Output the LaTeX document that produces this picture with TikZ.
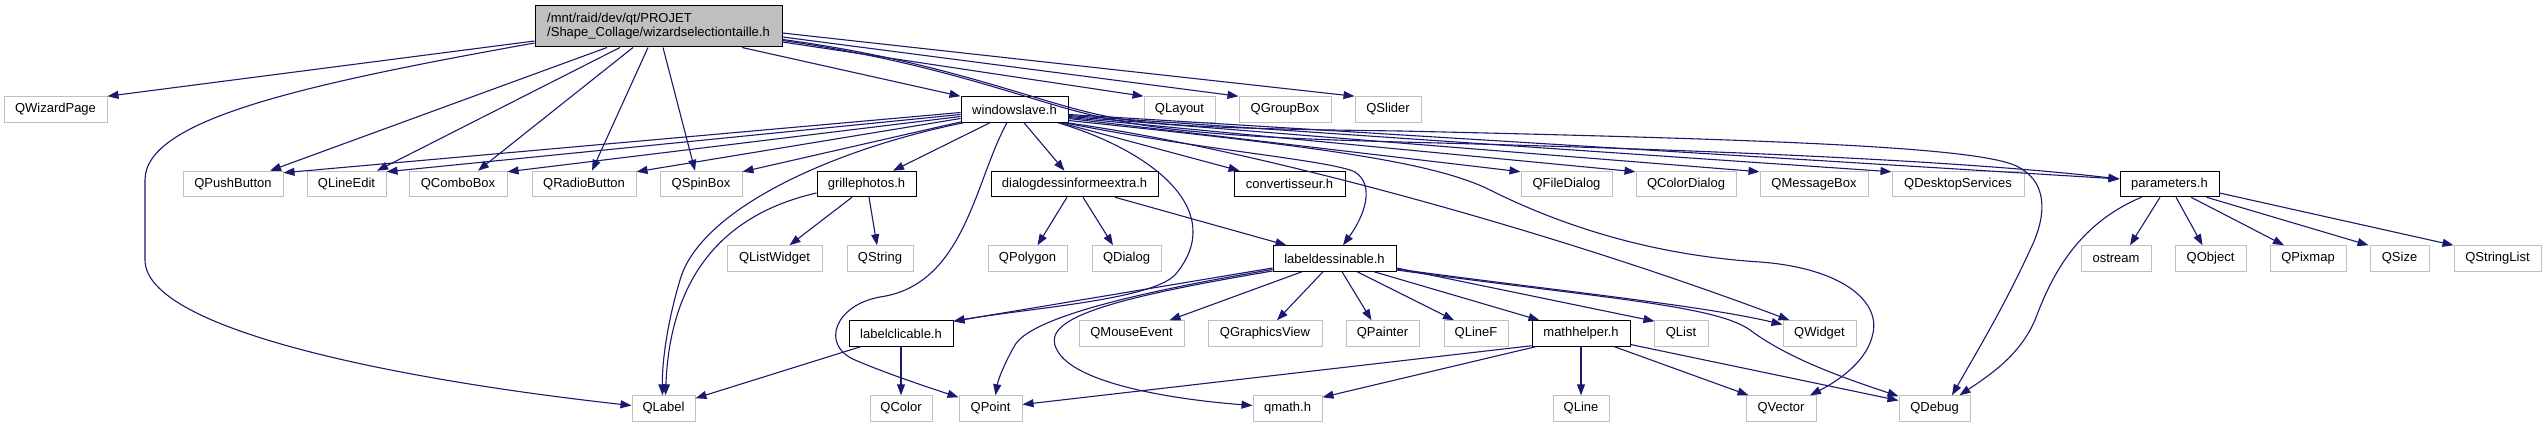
\documentclass[tikz,border=0pt]{standalone}
\usepackage{fontspec}
\setmainfont{Liberation Sans}
\usetikzlibrary{arrows.meta,calc}
\definecolor{edgeblue}{HTML}{191970}
\definecolor{extgray}{HTML}{BFBFBF}
\begin{document}
\begin{tikzpicture}[x=1pt,y=-1pt,
  box/.style={rectangle, inner sep=0pt, minimum height=25.5pt, line width=1pt, fill=white, font=\fontsize{13}{15}\selectfont, anchor=center},
  ext/.style={box, draw=extgray},
  int/.style={box, draw=black},
  dep/.style={draw=edgeblue, line width=1.1pt, -{Triangle[length=11pt,width=8pt]}}]
\fill[white] (0,0) rectangle (2545,427);
\useasboundingbox (0,0) rectangle (2545,427);

% main node
\node[box, draw=black, fill=extgray, minimum width=247pt, minimum height=41pt, align=left, font=\fontsize{13}{14}\selectfont] (main) at (658.5,26.5) {/mnt/raid/dev/qt/PROJET\\/Shape\_Collage/wizardselectiontaille.h};

% row 1
\node[ext, minimum width=103pt] (qwp) at (55.5,109.5) {QWizardPage};
\node[int, minimum width=107pt] (ws) at (1014.5,109.5) {windowslave.h};
\node[ext, minimum width=71pt] (qlay) at (1179.5,109.5) {QLayout};
\node[ext, minimum width=92pt] (qgb) at (1285,109.5) {QGroupBox};
\node[ext, minimum width=66pt] (qslider) at (1388,109.5) {QSlider};

% row 2
\node[ext, minimum width=100pt] (qpb) at (233,184) {QPushButton};
\node[ext, minimum width=79pt] (qle) at (346.5,184) {QLineEdit};
\node[ext, minimum width=98pt] (qcb) at (458,184) {QComboBox};
\node[ext, minimum width=104pt] (qrb) at (584,184) {QRadioButton};
\node[ext, minimum width=82pt] (qsb) at (701,184) {QSpinBox};
\node[int, minimum width=99pt] (grp) at (866.5,184) {grillephotos.h};
\node[int, minimum width=167pt] (dlg) at (1074.5,184) {dialogdessinformeextra.h};
\node[int, minimum width=111pt] (cnv) at (1289.5,184) {convertisseur.h};
\node[ext, minimum width=91pt] (qfd) at (1566.5,184) {QFileDialog};
\node[ext, minimum width=100pt] (qcd) at (1686,184) {QColorDialog};
\node[ext, minimum width=108pt] (qmb) at (1814,184) {QMessageBox};
\node[ext, minimum width=132pt] (qds) at (1958,184) {QDesktopServices};
\node[int, minimum width=99pt] (par) at (2169.5,184) {parameters.h};

% row 3
\node[ext, minimum width=95pt] (qlw) at (774.5,258.5) {QListWidget};
\node[ext, minimum width=66pt] (qstr) at (880,258.5) {QString};
\node[ext, minimum width=79pt] (qpoly) at (1027.5,258.5) {QPolygon};
\node[ext, minimum width=69pt] (qdlg) at (1126.5,258.5) {QDialog};
\node[int, minimum width=123pt] (lds) at (1334.5,258.5) {labeldessinable.h};
\node[ext, minimum width=70pt] (ostr) at (2116,258.5) {ostream};
\node[ext, minimum width=71pt] (qobj) at (2210.5,258.5) {QObject};
\node[ext, minimum width=76pt] (qpix) at (2308,258.5) {QPixmap};
\node[ext, minimum width=59pt] (qsize) at (2399.5,258.5) {QSize};
\node[ext, minimum width=87pt] (qstrl) at (2497.5,258.5) {QStringList};

% row 4
\node[int, minimum width=104pt] (lcl) at (901,333.5) {labelclicable.h};
\node[ext, minimum width=105pt] (qme) at (1131.5,333.5) {QMouseEvent};
\node[ext, minimum width=114pt] (qgv) at (1265,333.5) {QGraphicsView};
\node[ext, minimum width=73pt] (qpnt) at (1382.5,333.5) {QPainter};
\node[ext, minimum width=64pt] (qlf) at (1476,333.5) {QLineF};
\node[int, minimum width=98pt] (mh) at (1581,333.5) {mathhelper.h};
\node[ext, minimum width=54pt] (qlist) at (1681,333.5) {QList};
\node[ext, minimum width=73pt] (qw) at (1819.5,333.5) {QWidget};

% row 5
\node[ext, minimum width=63pt] (qlabel) at (663.5,408.5) {QLabel};
\node[ext, minimum width=62pt] (qcolor) at (901,408.5) {QColor};
\node[ext, minimum width=63pt] (qpoint) at (990.5,408.5) {QPoint};
\node[ext, minimum width=69pt] (qmath) at (1287.5,408.5) {qmath.h};
\node[ext, minimum width=56pt] (qline) at (1581,408.5) {QLine};
\node[ext, minimum width=70pt] (qvec) at (1781,408.5) {QVector};
\node[ext, minimum width=71pt] (qdbg) at (1934.5,408.5) {QDebug};

% edges from main
\draw[dep] ($(main.west)+(0,14.5)$) -- (qwp.north east);
\draw[dep] ($(main.west)+(0,16.5)$) .. controls (300,85) and (145,120) .. (145,180) -- (145,260) .. controls (145,330) and (400,380) .. ($(qlabel.west)+(0,-3)$);
\draw[dep] ($(main.south)+(-51.5,0)$) -- ($(qpb.north)+(37,0)$);
\draw[dep] ($(main.south)+(-38.5,0)$) -- ($(qle.north)+(30.5,0)$);
\draw[dep] ($(main.south)+(-25.5,0)$) -- ($(qcb.north)+(20,0)$);
\draw[dep] ($(main.south)+(-10.5,0)$) -- ($(qrb.north)+(8,0)$);
\draw[dep] ($(main.south)+(4.5,0)$) -- ($(qsb.north)+(-6,0)$);
\draw[dep] ($(main.south)+(83.5,0)$) -- (ws.north west);
\draw[dep] ($(main.east)+(0,15.5)$) -- (qlay.north west);
\draw[dep] ($(main.east)+(0,10.5)$) -- (qgb.north west);
\draw[dep] ($(main.east)+(0,6.5)$) -- (qslider.north west);
\draw[dep] ($(main.east)+(0,14)$) .. controls (950,64) and (1040,106) .. (1110,119) .. controls (1170,132) and (1250,138) .. (1400,142) .. controls (1800,152) and (2000,165) .. ($(par.west)+(0,-5)$);
\draw[dep] ($(main.east)+(0,13)$) .. controls (950,62) and (1040,104) .. (1110,117) .. controls (1160,127) and (1250,129) .. (1400,131) .. controls (1800,140) and (1990,148) .. (2020,168) .. controls (2050,185) and (2045,220) .. (2030,250) .. controls (2005,305) and (1975,355) .. ($(qdbg.north)+(17.5,0)$);

% edges from windowslave.h
\draw[dep] ($(ws.west)+(0,3)$) -- ($(qpb.north east)+(0,2)$);
\draw[dep] ($(ws.west)+(0,5)$) -- ($(qle.north east)+(0,1)$);
\draw[dep] ($(ws.west)+(0,7)$) -- ($(qcb.north east)+(0,1)$);
\draw[dep] ($(ws.west)+(0,9)$) -- ($(qrb.north east)+(0,1)$);
\draw[dep] ($(ws.south west)+(1,-1)$) -- ($(qsb.north east)+(0,1)$);
\draw[dep] ($(ws.south west)+(3,0)$) .. controls (830,150) and (700,210) .. (680,280) .. controls (668,320) and (662,360) .. ($(qlabel.north)+(-1,0)$);
\draw[dep] ($(ws.south)+(-24.5,0)$) -- ($(grp.north)+(26.5,0)$);
\draw[dep] ($(ws.south)+(9.5,0)$) -- ($(dlg.north)+(-10,0)$);
\draw[dep] ($(ws.south)+(-7.5,0)$) .. controls (975,180) and (965,285) .. (880,297) .. controls (835,305) and (820,345) .. (855,360) .. controls (885,373) and (930,388) .. ($(qpoint.north west)+(0,2)$);
\draw[dep] ($(ws.south)+(43.5,0)$) .. controls (1150,150) and (1230,210) .. (1175,275) .. controls (1150,300) and (1030,308) .. ($(lcl.north east)+(0,1)$);
\draw[dep] ($(ws.south east)+(-8,0)$) -- ($(cnv.north west)+(6,0)$);
\draw[dep] ($(ws.south east)+(-4,0)$) .. controls (1200,150) and (1330,160) .. (1355,172) .. controls (1375,185) and (1365,215) .. ($(lds.north)+(8.5,0)$);
\draw[dep] ($(ws.east)+(0,9)$) -- ($(qfd.north west)+(0,1)$);
\draw[dep] ($(ws.east)+(0,8)$) -- ($(qcd.north west)+(0,1)$);
\draw[dep] ($(ws.east)+(0,7)$) -- ($(qmb.north west)+(0,1)$);
\draw[dep] ($(ws.east)+(0,6)$) -- ($(qds.north west)+(0,1)$);
\draw[dep] ($(ws.east)+(0,5)$) -- ($(par.west)+(0,-5)$);
\draw[dep] ($(ws.south east)+(-2,0)$) .. controls (1250,148) and (1550,230) .. ($(qw.north west)+(7,0)$);
\draw[dep] ($(ws.east)+(0,11)$) .. controls (1300,145) and (1430,160) .. (1490,190) .. controls (1560,225) and (1650,255) .. (1760,262) .. controls (1840,268) and (1880,300) .. (1873,333) .. controls (1868,360) and (1840,380) .. ($(qvec.north)+(29,0)$);

% edges from grillephotos.h
\draw[dep] ($(grp.south)+(-14.5,0)$) -- ($(qlw.north)+(15,0)$);
\draw[dep] ($(grp.south)+(2.5,0)$) -- ($(qstr.north)+(-3,0)$);
\draw[dep] ($(grp.west)+(0,9)$) .. controls (720,215) and (670,280) .. ($(qlabel.north)+(2,0)$);

% edges from dialogdessinformeextra.h
\draw[dep] ($(dlg.south)+(-7.5,0)$) -- ($(qpoly.north)+(10,0)$);
\draw[dep] ($(dlg.south)+(8.5,0)$) -- ($(qdlg.north)+(-13.5,0)$);
\draw[dep] ($(dlg.south)+(40.5,0)$) -- ($(lds.north west)+(14,0)$);

% edges from labeldessinable.h
\draw[dep] ($(lds.west)+(0,9.5)$) -- ($(lcl.north east)+(0,1)$);
\draw[dep] ($(lds.west)+(0,11)$) .. controls (1120,295) and (1030,320) .. (1015,345) .. controls (1005,362) and (998,380) .. ($(qpoint.north)+(5,0)$);
\draw[dep] ($(lds.west)+(0,12.5)$) .. controls (1100,300) and (1040,320) .. (1057,350) .. controls (1075,385) and (1180,400) .. ($(qmath.west)+(0,-3)$);
\draw[dep] ($(lds.south)+(-32.5,0)$) -- ($(qme.north)+(38,0)$);
\draw[dep] ($(lds.south)+(-11.5,0)$) -- ($(qgv.north)+(12,0)$);
\draw[dep] ($(lds.south)+(7.5,0)$) -- ($(qpnt.north)+(-11,0)$);
\draw[dep] ($(lds.south)+(22.5,0)$) -- ($(qlf.north)+(-22,0)$);
\draw[dep] ($(lds.south)+(39.5,0)$) -- ($(mh.north west)+(8,0)$);
\draw[dep] ($(lds.east)+(0,9.5)$) -- ($(qlist.north west)+(1,1)$);
\draw[dep] ($(lds.east)+(0,10.5)$) .. controls (1550,290) and (1700,305) .. ($(qw.west)+(0,-9)$);
\draw[dep] ($(lds.east)+(0,11.5)$) .. controls (1600,298) and (1715,305) .. (1750,330) .. controls (1790,360) and (1850,380) .. ($(qdbg.north west)+(0,1)$);

% edges from mathhelper.h
\draw[dep] ($(mh.south west)+(0,-1)$) -- ($(qpoint.east)+(0,-4)$);
\draw[dep] ($(mh.south west)+(4,0)$) -- ($(qmath.north east)+(0,2)$);
\draw[dep] (mh) -- (qline);
\draw[dep] ($(mh.south east)+(-16,0)$) -- ($(qvec.north west)+(3,0)$);
\draw[dep] ($(mh.east)+(0,11)$) -- ($(qdbg.west)+(0,-8)$);

% edges from labelclicable.h
\draw[dep] ($(lcl.south west)+(12,0)$) -- ($(qlabel.north east)+(0,3)$);
\draw[dep] (lcl) -- (qcolor);

% edges from parameters.h
\draw[dep] ($(par.south west)+(22,0)$) .. controls (2075,225) and (2050,280) .. (2035,320) .. controls (2020,355) and (1990,375) .. ($(qdbg.north)+(25,0)$);
\draw[dep] ($(par.south)+(-9.5,0)$) -- ($(ostr.north)+(14,0)$);
\draw[dep] ($(par.south)+(6.5,0)$) -- ($(qobj.north)+(-8,0)$);
\draw[dep] ($(par.south)+(21.5,0)$) -- ($(qpix.north)+(-24,0)$);
\draw[dep] ($(par.south east)+(-13,0)$) -- ($(qsize.north west)+(-1,0)$);
\draw[dep] ($(par.east)+(0,9)$) -- (qstrl.north west);
\end{tikzpicture}
\end{document}
